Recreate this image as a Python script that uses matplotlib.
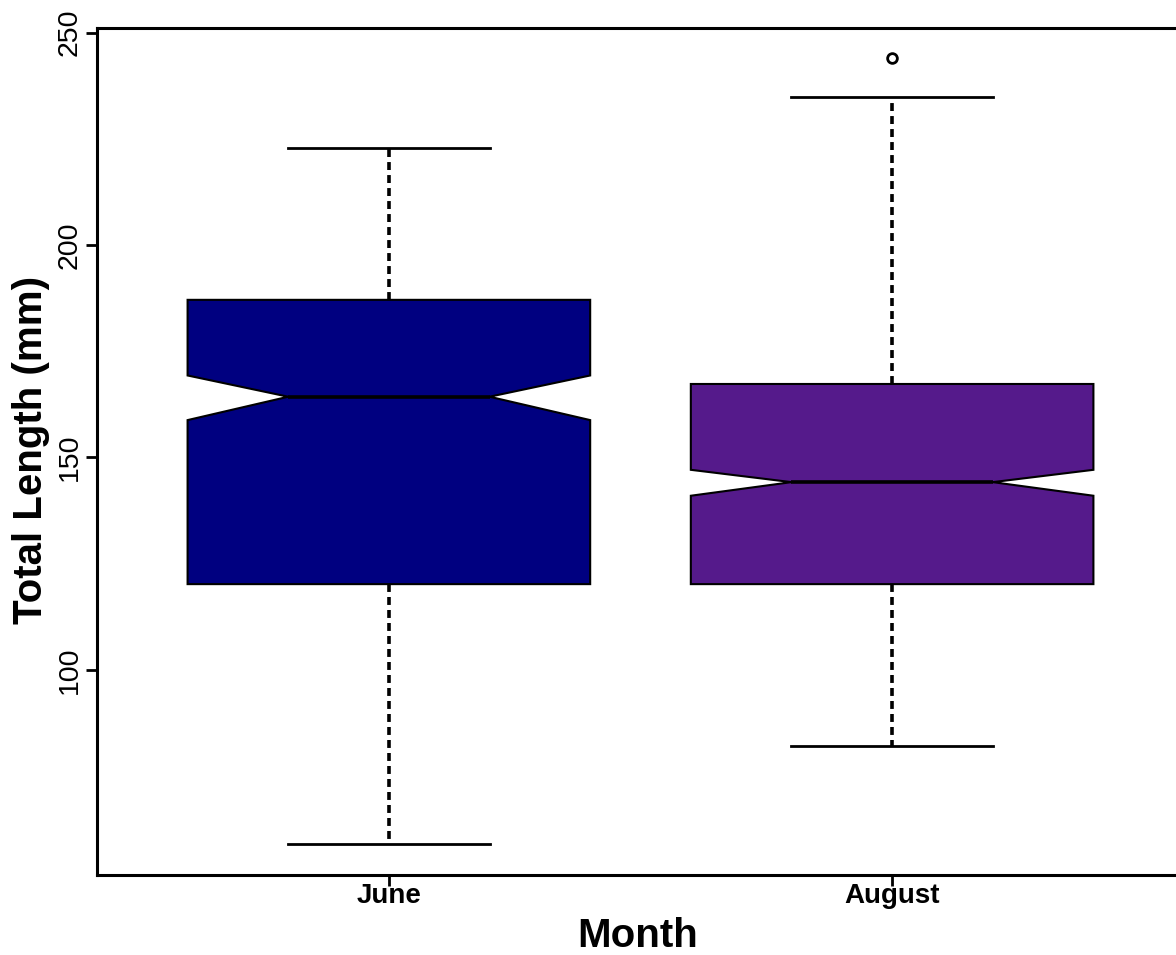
import matplotlib
matplotlib.use("Agg")
import matplotlib.pyplot as plt

# ---- data ----
months = ["June", "August"]
whislo = [59.0, 82.2]
q1 = [120.2, 120.2]
med = [164.3, 144.2]
q3 = [187.1, 167.3]
whishi = [222.8, 234.9]
cilo = [158.8, 141.0]
cihi = [169.3, 147.1]
fliers = [[], [244.0]]
colors = ["#000080", "#551A8B"]
yticks = [100, 150, 200, 250]

plt.rcParams['font.family'] = ['Liberation Sans', 'DejaVu Sans']

fig = plt.figure(figsize=(11.76, 9.55), dpi=100)
AX_L, AX_R, AX_B, AX_T = 97.0, 1184.0, 875.0, 28.3
ax = fig.add_axes([AX_L/1176, (955-AX_B)/955, (AX_R-AX_L)/1176, (AX_B-AX_T)/955])

stats = []
for i, m in enumerate(months):
    stats.append(dict(label=m, whislo=whislo[i], q1=q1[i], med=med[i], q3=q3[i],
                      whishi=whishi[i], cilo=cilo[i], cihi=cihi[i], fliers=fliers[i]))

bp = ax.bxp(stats, positions=[1, 2], widths=0.8, shownotches=True,
            patch_artist=True, capwidths=0.4,
            boxprops=dict(linewidth=1.5, edgecolor='black'),
            whiskerprops=dict(linewidth=2.6, linestyle=(0, (2.2, 1.4)), color='black'),
            capprops=dict(linewidth=2.0, color='black'),
            medianprops=dict(linewidth=2.6, color='black', solid_capstyle='butt'),
            flierprops=dict(marker='o', markersize=7, markerfacecolor='none',
                            markeredgecolor='black', markeredgewidth=2.0))
for patch, c in zip(bp['boxes'], colors):
    patch.set_facecolor(c)

ax.set_xlim(0.42, 2.58)
ax.set_ylim(51.75, 251.0)
ax.set_yticks(yticks)
ax.set_yticklabels([str(v) for v in yticks], rotation=90, va='center', fontsize=20.5)
ax.set_xticks([1, 2])
ax.set_xticklabels(months, fontsize=20, fontweight='bold')
ax.tick_params(axis='both', direction='out', length=8, width=2.0, color='black')
ax.tick_params(axis='x', pad=-2)
ax.tick_params(axis='y', pad=2)

for s in ['left', 'top', 'bottom']:
    ax.spines[s].set_linewidth(2.2)
    ax.spines[s].set_color('black')
ax.spines['right'].set_visible(False)

W = AX_R - AX_L
H = AX_B - AX_T
ax.set_xlabel("Month", fontsize=29, fontweight='bold')
ax.set_ylabel("Total Length (mm)", fontsize=29, fontweight='bold')
ax.xaxis.set_label_coords((638-AX_L)/W, (AX_B-936)/H)
ax.xaxis.label.set_verticalalignment('center')
ax.yaxis.set_label_coords((31-AX_L)/W, (AX_B-450)/H)
ax.yaxis.label.set_verticalalignment('center')

fig.savefig("out.png", dpi=100)
